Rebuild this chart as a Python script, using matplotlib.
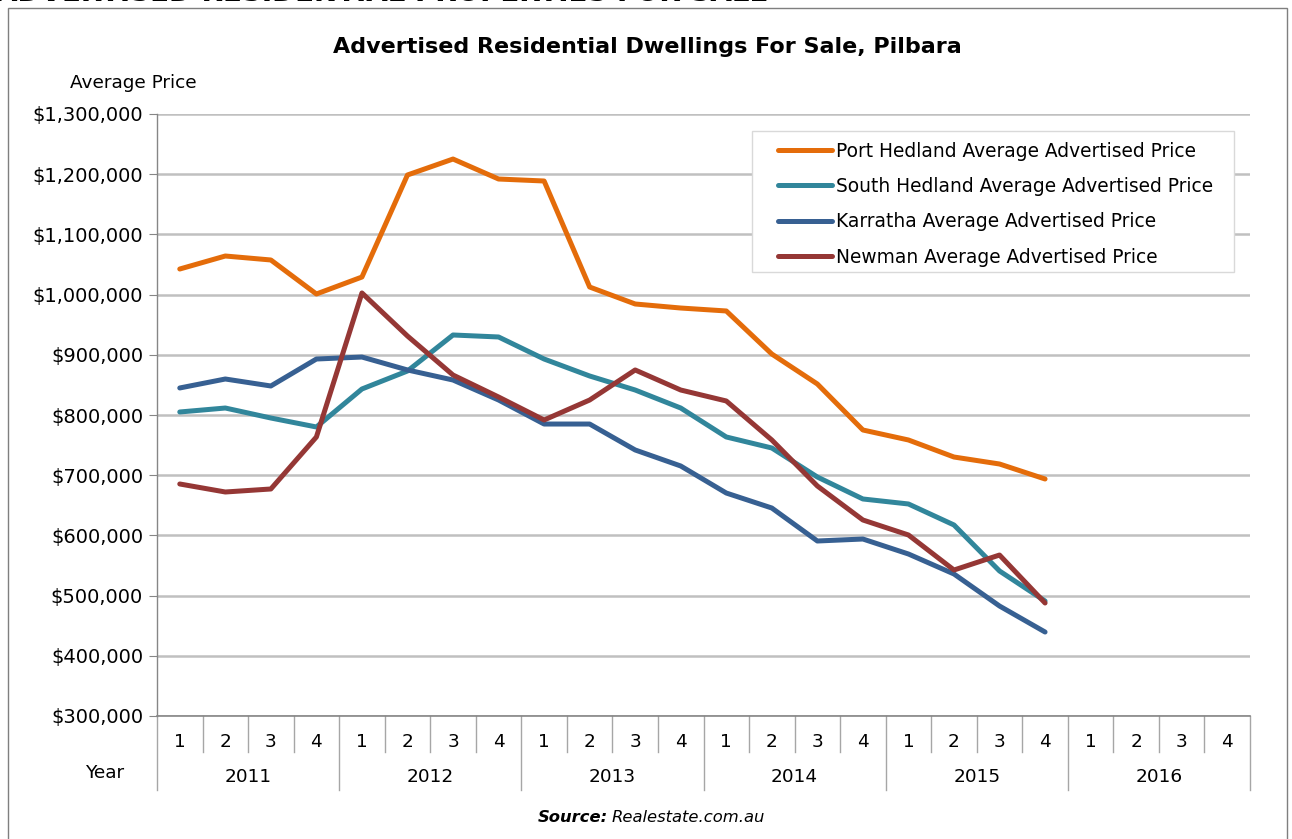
import matplotlib
matplotlib.use("Agg")
import matplotlib.pyplot as plt
from matplotlib.ticker import FuncFormatter, MultipleLocator
from matplotlib.patches import Rectangle
import matplotlib.transforms as mtransforms

years = ["2011", "2012", "2013", "2014", "2015", "2016"]
quarters = ["1", "2", "3", "4"]

port_hedland = [1042500, 1064100, 1057500, 1001000, 1029200, 1198700, 1225200, 1192000,
                1188700, 1012600, 984400, 977700, 972800, 901300, 851500, 775100,
                758500, 730200, 718600, 693700]
south_hedland = [805000, 811600, 795000, 780100, 843200, 873100, 932900, 929600,
                 893000, 864800, 841500, 811600, 763500, 745200, 697000, 660500,
                 652200, 617300, 540900, 491000]
karratha = [844900, 859800, 848200, 893000, 896300, 874800, 858100, 824900,
            785000, 785000, 741900, 715300, 670400, 645500, 590700, 594000,
            569100, 535900, 482700, 439500]
newman = [685400, 672100, 677100, 763500, 1002700, 931200, 866400, 829900,
          791700, 824900, 874800, 841500, 823300, 758500, 682100, 625600,
          600700, 542500, 567400, 487700]

series = [
    ("Port Hedland Average Advertised Price", port_hedland, "#E46C0A"),
    ("South Hedland Average Advertised Price", south_hedland, "#31869B"),
    ("Karratha Average Advertised Price", karratha, "#376092"),
    ("Newman Average Advertised Price", newman, "#953735"),
]

W, H = 1292, 839
fig = plt.figure(figsize=(W / 100, H / 100), dpi=100)
fig.patch.set_facecolor("white")

# outer border
fig.patches.append(Rectangle((8 / W, -0.01), (1287 - 8) / W, (H - 8) / H + 0.01,
                             transform=fig.transFigure, fill=False,
                             edgecolor="#7f7f7f", linewidth=1.0))

# cut-off heading at very top (only its lower edge is visible in the original)
fig.text(-4 / W, (H - 1) / H, "ADVERTISED RESIDENTIAL PROPERTIES FOR SALE",
         fontsize=20, fontweight="bold", ha="left", va="baseline", color="black")

left, right, top, bottom = 157, 1250, 114, 716
ax = fig.add_axes([left / W, (H - bottom) / H, (right - left) / W, (bottom - top) / H])

n = len(years) * len(quarters)
x = list(range(n))
for name, vals, col in series:
    ax.plot(x[:len(vals)], vals, color=col, linewidth=3.6, label=name,
            solid_capstyle="round", solid_joinstyle="round", zorder=3)

ax.set_xlim(-0.5, n - 0.5)
ax.set_ylim(300000, 1300000)
ax.yaxis.set_major_locator(MultipleLocator(100000))
ax.yaxis.set_major_formatter(FuncFormatter(lambda v, p: "${:,.0f}".format(v)))
ax.grid(axis="y", color="#c0c0c0", linewidth=1.8, zorder=0)
ax.set_axisbelow(True)

for s in ["top", "right"]:
    ax.spines[s].set_visible(False)
ax.spines["left"].set_color("#868686")
ax.spines["bottom"].set_color("#868686")
ax.spines["left"].set_linewidth(1.0)
ax.spines["bottom"].set_linewidth(1.2)
ax.tick_params(axis="y", length=6, color="#868686", labelsize=14, pad=4)

ax.set_xticks(x)
ax.set_xticklabels(quarters * len(years), fontsize=13.3)
ax.tick_params(axis="x", length=0, pad=12)

trans = mtransforms.blended_transform_factory(ax.transData, ax.transAxes)
axh = bottom - top
axw = right - left
q_len = (752 - 716) / axh
y_len = (790 - 716) / axh
for i in range(n + 1):
    xb = i - 0.5
    L = y_len if i % 4 == 0 else q_len
    ax.plot([xb, xb], [0, -L], transform=trans, color="#a6a6a6",
            linewidth=1.0, clip_on=False)

for k, yr in enumerate(years):
    ax.text(4 * k + 1.5, -(777 - 716) / axh, yr, transform=trans,
            ha="center", va="center", fontsize=13.3)
fig.text(105 / W, (H - 773) / H, "Year", ha="center", va="center", fontsize=13.3)

fig.text(647 / W, (H - 47) / H, "Advertised Residential Dwellings For Sale, Pilbara",
         ha="center", va="center", fontsize=16, fontweight="bold")
fig.text(70 / W, (H - 83) / H, "Average Price", ha="left", va="center", fontsize=13.3)

fig.text(608 / W, (H - 818) / H, "Source:", ha="right", va="center",
         fontsize=11.8, fontweight="bold", fontstyle="italic")
fig.text(612 / W, (H - 818) / H, "Realestate.com.au", ha="left", va="center",
         fontsize=11.8, fontstyle="italic")

# legend box
bx0, bx1, by0, by1 = 752, 1234, 131, 272
ax.add_patch(Rectangle(((bx0 - left) / axw, 1 - (by1 - top) / axh),
                       (bx1 - bx0) / axw, (by1 - by0) / axh,
                       transform=ax.transAxes, facecolor="white",
                       edgecolor="#d9d9d9", linewidth=1.0, zorder=4))
leg = ax.legend(loc="upper left",
                bbox_to_anchor=((772 - left) / axw, 1 - (136 - top) / axh),
                fontsize=13.4, frameon=False, handlelength=2.9,
                handletextpad=0.25, labelspacing=0.88, borderpad=0.3,
                borderaxespad=0)
leg.set_zorder(5)

fig.savefig("out.png", dpi=100)
